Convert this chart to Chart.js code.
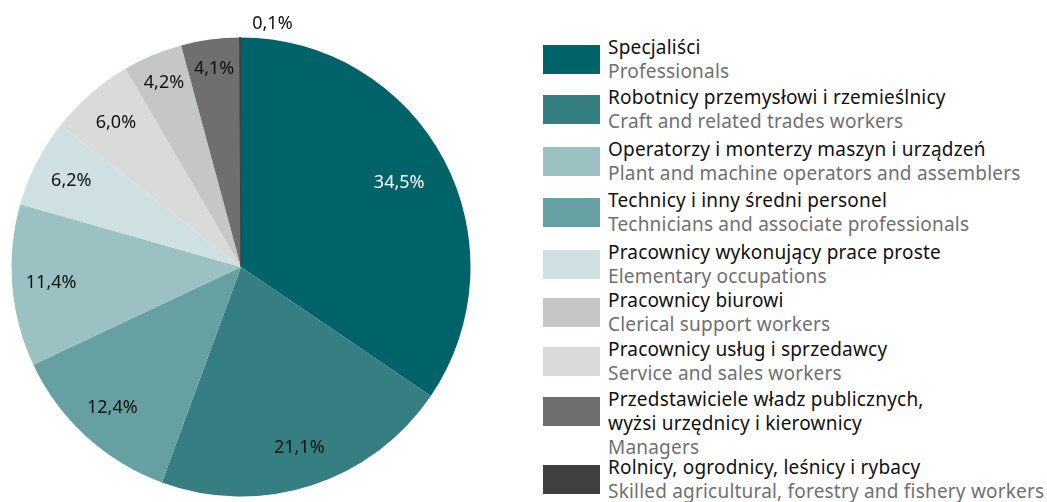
<!DOCTYPE html>
<html>
<head>
<meta charset="utf-8">
<script src="https://cdn.jsdelivr.net/npm/chart.js@4"></script>
<style>
  html, body { margin: 0; padding: 0; background: #ffffff; }
  body { width: 1047px; height: 502px; position: relative; overflow: hidden; font-family: "Noto Sans", sans-serif; }
  #chartBox { position: absolute; left: 0; top: 0; width: 482px; height: 502px; }
  #legend { position: absolute; left: 543px; top: 0; width: 504px; height: 502px; }
  .item { position: absolute; left: 0; }
  .box { position: absolute; left: 0; top: 0; width: 57px; height: 29px; }
  .txt { position: absolute; left: 65px; top: -10px; font-size: 19px; letter-spacing: 0.2px; line-height: 24px; white-space: nowrap; }
  .pl { color: #111111; }
  .en { color: #707070; }
</style>
</head>
<body>
<div id="chartBox"><canvas id="c"></canvas></div>
<div id="legend"></div>
<script>
// ---- data (pie order, clockwise from top) ----
const categoriesPL = [
  "Specjaliści",
  "Robotnicy przemysłowi i rzemieślnicy",
  "Technicy i inny średni personel",
  "Operatorzy i monterzy maszyn i urządzeń",
  "Pracownicy wykonujący prace proste",
  "Pracownicy usług i sprzedawcy",
  "Pracownicy biurowi",
  "Przedstawiciele władz publicznych,\nwyżsi urzędnicy i kierownicy",
  "Rolnicy, ogrodnicy, leśnicy i rybacy"
];
const categoriesEN = [
  "Professionals",
  "Craft and related trades workers",
  "Technicians and associate professionals",
  "Plant and machine operators and assemblers",
  "Elementary occupations",
  "Service and sales workers",
  "Clerical support workers",
  "Managers",
  "Skilled agricultural, forestry and fishery workers"
];
const shares = [34.5, 21.1, 12.4, 11.4, 6.2, 6.0, 4.2, 4.1, 0.1];
const colors = ["#00636a", "#357f83", "#67a0a3", "#9bc1c2", "#cfe0e2", "#d9dada", "#c5c6c6", "#6f6f6f", "#404040"];
// legend order (indexes into the arrays above)
const legendOrder = [0, 1, 3, 2, 4, 6, 5, 7, 8];

// ---- layout/style constants ----
const legendRowTops = [45, 95, 147, 198, 250, 298, 347, 397, 465];

const fmt = v => v.toFixed(1).replace('.', ',') + '%';

const labelPlugin = {
  id: 'sliceLabels',
  afterDatasetsDraw(chart) {
    const ctx = chart.ctx;
    const meta = chart.getDatasetMeta(0);
    ctx.save();
    ctx.font = '18px "Noto Sans", sans-serif';
    ctx.textBaseline = 'middle';
    meta.data.forEach((arc, i) => {
      const v = shares[i];
      const p = arc.getProps(['x', 'y', 'startAngle', 'endAngle', 'outerRadius'], true);
      const mid = (p.startAngle + p.endAngle) / 2;
      let r, align = 'center';
      if (v < 1) { r = p.outerRadius + 14; align = 'left'; }
      else if (v > 30) r = p.outerRadius * 0.78;
      else if (v < 5) r = p.outerRadius * 0.87;
      else r = p.outerRadius * 0.83;
      let x = p.x + Math.cos(mid) * r;
      const y = p.y + Math.sin(mid) * r;
      if (v < 1) x += 12;
      ctx.textAlign = align;
      ctx.fillStyle = v > 30 ? '#ffffff' : '#111111';
      ctx.fillText(fmt(v), x, y);
    });
    ctx.restore();
  }
};

new Chart(document.getElementById('c'), {
  type: 'pie',
  data: {
    labels: categoriesEN,
    datasets: [{
      data: shares,
      backgroundColor: colors,
      borderColor: colors,
      borderWidth: c => (shares[c.dataIndex] < 1 ? 1 : 0)
    }]
  },
  options: {
    responsive: true,
    maintainAspectRatio: false,
    animation: false,
    layout: { padding: { left: 11, right: 11, top: 37, bottom: 5 } },
    plugins: { legend: { display: false }, tooltip: { enabled: false } }
  },
  plugins: [labelPlugin]
});

// ---- HTML legend built from the arrays ----
const legend = document.getElementById('legend');
legendOrder.forEach((idx, row) => {
  const item = document.createElement('div');
  item.className = 'item';
  item.style.top = legendRowTops[row] + 'px';
  const box = document.createElement('div');
  box.className = 'box';
  box.style.background = colors[idx];
  const txt = document.createElement('div');
  txt.className = 'txt';
  categoriesPL[idx].split('\n').forEach(line => {
    const d = document.createElement('div');
    d.className = 'pl';
    d.textContent = line;
    txt.appendChild(d);
  });
  const en = document.createElement('div');
  en.className = 'en';
  en.textContent = categoriesEN[idx];
  txt.appendChild(en);
  item.appendChild(box);
  item.appendChild(txt);
  legend.appendChild(item);
});
</script>
</body>
</html>
